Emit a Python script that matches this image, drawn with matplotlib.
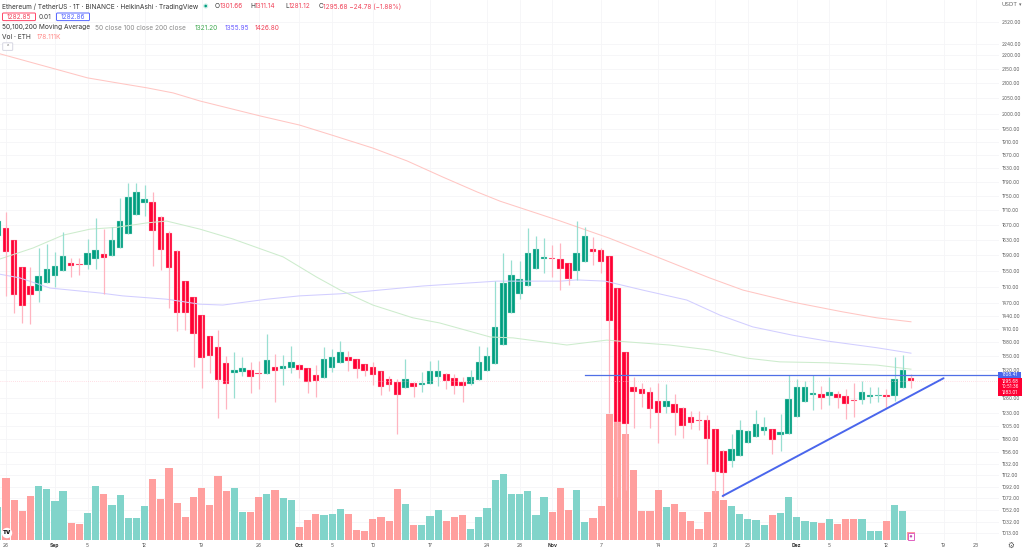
import numpy as np
import matplotlib
matplotlib.use("Agg")
import matplotlib.pyplot as plt
from matplotlib.patches import FancyBboxPatch, Rectangle, Circle
from matplotlib.ticker import NullFormatter, FixedLocator, FixedFormatter

plt.rcParams['font.family'] = ['Inter', 'DejaVu Sans']

# ---- data (daily ETH/USDT, Heikin Ashi) ----
days = list(range(-1, 112))
opens = [1640,1661,1629,1560,1512,1500,1519,1537,1549,1570,1567,1565,1580,1593,1587,1608,1645,1696,1730,1733,1691,1648,1600,1524,1485,1442,1394,1370,1335,1313,1315,1319,1313,1311,1326,1322,1324,1330,1324,1309,1302,1324,1335,1348,1343,1332,1326,1317,1300,1294,1282,1292,1288,1290,1304,1311,1302,1294,1290,1298,1317,1332,1374,1447,1493,1512,1555,1580,1582,1580,1570,1549,1572,1605,1603,1587,1507,1359,1284,1280,1273,1255,1243,1249,1240,1223,1217,1217,1199,1157,1138,1148,1172,1183,1195,1199,1187,1189,1223,1253,1267,1269,1265,1269,1265,1257,1257,1263,1265,1267,1265,1282,1301.66]
closes = [1680,1598,1490,1464,1490,1537,1555,1562,1587,1562,1565,1595,1603,1582,1629,1680,1747,1761,1741,1653,1603,1557,1447,1447,1399,1345,1350,1298,1290,1319,1324,1304,1311,1341,1317,1328,1337,1319,1294,1296,1343,1348,1359,1339,1322,1317,1309,1284,1288,1267,1300,1284,1292,1317,1317,1296,1286,1286,1304,1337,1350,1415,1519,1539,1529,1595,1605,1585,1580,1555,1529,1595,1640,1598,1572,1429,1213,1209,1273,1269,1238,1230,1255,1230,1205,1211,1215,1180,1118,1116,1161,1197,1195,1209,1203,1178,1193,1259,1284,1284,1271,1261,1273,1261,1249,1255,1273,1267,1267,1263,1300,1319,1295.68]
highs = [1705,1705,1629,1560,1560,1608,1619,1598,1650,1582,1582,1632,1688,1658,1663,1744,1787,1787,1781,1761,1694,1653,1603,1524,1485,1442,1394,1408,1350,1359,1348,1337,1339,1399,1354,1352,1372,1332,1324,1330,1370,1365,1383,1361,1343,1332,1337,1317,1307,1300,1343,1294,1315,1339,1341,1313,1311,1304,1319,1372,1370,1524,1595,1577,1575,1661,1640,1634,1616,1621,1570,1680,1663,1637,1608,1587,1507,1359,1304,1292,1284,1292,1290,1269,1243,1234,1234,1226,1199,1159,1189,1217,1197,1236,1223,1199,1228,1309,1300,1296,1309,1286,1304,1275,1280,1292,1296,1284,1284,1280,1348,1352,1311.14]
lows = [1640,1488,1447,1424,1422,1473,1519,1509,1549,1534,1539,1555,1555,1493,1587,1608,1645,1696,1694,1562,1552,1459,1406,1408,1326,1282,1313,1221,1238,1261,1307,1271,1280,1311,1253,1288,1313,1302,1271,1263,1302,1315,1335,1317,1302,1307,1288,1267,1275,1189,1282,1263,1273,1290,1286,1280,1269,1253,1288,1298,1317,1332,1374,1447,1480,1512,1555,1544,1534,1502,1514,1527,1572,1565,1544,1230,1074,1086,1201,1243,1201,1172,1230,1187,1182,1199,1197,1133,1081,1074,1127,1148,1172,1183,1187,1151,1157,1189,1223,1253,1236,1238,1247,1240,1219,1223,1249,1251,1253,1240,1255,1282,1281.12]
volumes_k = [686,1302,847,616,931,1134,1071,819,1036,364,329,567,1134,959,728,938,462,462,714,1281,861,1505,784,476,903,1099,742,1351,1022,1099,588,588,903,973,1043,875,833,280,420,546,532,546,644,
             546,217,196,434,476,406,1064,749,315,322,504,637,406,476,518,238,476,679,1267,1386,966,959,1029,525,903,581,1099,623,1050,385,462,714,2646,2814,2226,1470,609,609,1050,700,749,588,399,224,588,1029,840,714,539,434,413,315,525,567,910,476,406,385,350,434,329,434,441,448,196,189,399,735,616,178]

ma200_x = [-0.7,6,10,13.6,17.3,20.5,23.8,31.2,36,40,45,49.2,53.6,57.8,60.6,68,74,80.2,86.3,90.4,96.5,102.6,106.8,111]
ma200_y = [2203,2150,2119,2102,2085,2068,2041,1992,1963,1931,1891,1852,1804,1761,1735,1680,1634,1582,1532,1502,1473,1450,1436,1426.8]
ma100_x = [-0.7,1.7,5.4,11.5,14.3,19.7,23.8,26.6,32,36,41,51.1,60.2,68,70,73.5,78.1,83.5,87.6,91.6,96.5,100.7,106.8,111]
ma100_y = [1541,1532,1507,1495,1488,1480,1468,1466,1480,1488,1493,1512,1524,1524,1527,1524,1502,1478,1442,1415,1396,1383,1368,1355.95]
ma50_x = [-0.7,3.3,7,10.3,13.6,17.3,19.7,23.8,27.8,34,38.1,41,45,49.9,53.2,59.4,62.2,68.8,73.7,76.2,81.4,86.3,90.9,94.9,100.7,106.8,111]
ma50_y = [1580,1608,1642,1658,1663,1675,1680,1658,1632,1585,1534,1502,1466,1436,1424,1392,1390,1374,1385,1381,1374,1363,1345,1337,1335,1330,1321.2]

hline_price = 1308.41
hline_from = 71
last_price = 1295.68
trend_x = [87.9, 115]
trend_y = [1075.6, 1302]

price_ticks = [2320,2240,2200,2150,2100,2050,2000,1950,1910,1870,1830,1790,1750,1710,1670,1630,1590,1550,1510,1470,1440,1410,1380,1350,1320,1260,1230,1205,1180,1156,1132,1112,1092,1072,1052,1032,1013]
date_ticks = [0,6,10,17,24,31,36,40,45,52,59,63,67,73,80,87,91,97,101,108,115,119]
date_labels = ['26','Sep','5','12','19','26','Oct','5','10','17','24','28','Nov','7','14','21','25','Dez','5','12','19','23']
month_labels = {'Sep','Oct','Nov','Dez'}

RED, GREEN = '#ff0033', '#009e80'
WICK_R, WICK_G = '#ffb4c0', '#98dfd1'
VOL_R, VOL_G = '#ff9f9e', '#81d4ca'
GRID = '#f5f5f7'

W, H = 1024, 549
fig = plt.figure(figsize=(W/100, H/100), dpi=100, facecolor='white')
rect = [0, 1-541/H, 999/W, 541/H]

xlim = (-0.736, 121.8)
ylim = (999.9, 2404.3)

ax = fig.add_axes(rect)            # grid + labels
ax_v = fig.add_axes(rect, sharex=ax)   # volume
ax_c = fig.add_axes(rect, sharex=ax)   # price

ax.set_zorder(1); ax_v.set_zorder(2); ax_c.set_zorder(3)
for a in (ax_v, ax_c):
    a.patch.set_visible(False)

for a in (ax, ax_c):
    a.set_yscale('log')
    a.set_ylim(*ylim)
ax.set_xlim(*xlim)

for a in (ax, ax_v, ax_c):
    for s in a.spines.values():
        s.set_visible(False)

ax.yaxis.tick_right()
ax.yaxis.set_major_locator(FixedLocator(price_ticks))
ax.yaxis.set_major_formatter(FixedFormatter([f"{v:.2f}" for v in price_ticks]))
ax.yaxis.set_minor_locator(FixedLocator([]))
ax.yaxis.set_minor_formatter(NullFormatter())
ax.tick_params(axis='y', length=0, pad=2, labelsize=3.5, labelcolor='#5f5f5f')
ax.set_xticks(date_ticks)
ax.set_xticklabels(date_labels)
ax.tick_params(axis='x', length=0, pad=1.6, labelsize=3.6, labelcolor='#555555')
for t in ax.get_xticklabels():
    if t.get_text() in month_labels:
        t.set_fontweight('bold')
        t.set_color('#333333')
ax.grid(True, color=GRID, lw=0.6)
ax.set_axisbelow(True)

x = np.array(days, dtype=float)
o, h, l, c = map(np.array, (opens, highs, lows, closes))
up = c >= o

# volume
ax_v.set_ylim(-21, 11340)
ax_v.axis('off')
ax_v.bar(x, volumes_k, width=0.88, color=[VOL_G if u else VOL_R for u in up], linewidth=0)

# moving averages
ax_c.plot(ma200_x, ma200_y, color='#ffc6c3', lw=0.75)
ax_c.plot(ma100_x, ma100_y, color='#d2ceff', lw=0.75)
ax_c.plot(ma50_x, ma50_y, color='#cdeccd', lw=0.75)

# last price dotted line
ax_c.axhline(last_price, color='#ffc0cc', lw=0.5, ls=(0, (1, 2)))

# candles
ax_c.vlines(x, l, h, colors=[WICK_G if u else WICK_R for u in up], lw=0.9)
ax_c.bar(x, np.abs(c-o), bottom=np.minimum(o, c), width=0.8,
         color=[GREEN if u else RED for u in up], linewidth=0.25,
         edgecolor=['#b5e6dc' if u else '#ffc2cd' for u in up])

# drawings
ax_c.plot([hline_from, xlim[1]], [hline_price, hline_price], color='#4f6fe6', lw=0.9)
ax_c.plot(trend_x, trend_y, color='#4a66ec', lw=1.4, solid_capstyle='round')
ax_c.set_xlim(*xlim)
ax_c.set_ylim(*ylim)
ax_c.tick_params(left=False, right=False, bottom=False, top=False, which='both',
                 labelleft=False, labelbottom=False)
ax_c.yaxis.set_minor_formatter(NullFormatter())

# overlay in pixel coordinates for the TradingView chrome
ov = fig.add_axes([0, 0, 1, 1], zorder=10)
ov.set_xlim(0, W); ov.set_ylim(H, 0); ov.axis('off')

def txt(px, py, s, color='#333333', size=4.7, **kw):
    ov.text(px, py, s, color=color, fontsize=size, va='center', ha=kw.pop('ha', 'left'), **kw)

TXT_RED = '#f0445a'
txt(2, 6.5, 'Ethereum / TetherUS · 1T · BINANCE · HeikinAshi · TradingView')
ov.add_patch(Circle((205.7, 6), 2.6, color='#cdeee6', lw=0))
ov.add_patch(Circle((205.7, 6), 1.3, color='#009e80', lw=0))
for px, s, col in [(215, 'O', '#333333'), (220, '1301.66', TXT_RED),
                   (250, 'H', '#333333'), (255, '1311.14', TXT_RED),
                   (285, 'L', '#333333'), (289, '1281.12', TXT_RED),
                   (319, 'C', '#333333'), (323, '1295.68 −24.78 (−1.88%)', TXT_RED)]:
    txt(px, 6.5, s, col)

ov.add_patch(FancyBboxPatch((2.5, 13), 33, 7.6, boxstyle='round,pad=0,rounding_size=1',
                            fc='white', ec='#ff4466', lw=0.7))
txt(19, 17, '1282.85', TXT_RED, ha='center')
txt(38.5, 17, '0.01', '#444444')
ov.add_patch(FancyBboxPatch((56.5, 13), 33, 7.6, boxstyle='round,pad=0,rounding_size=1',
                            fc='white', ec='#5566ff', lw=0.7))
txt(73, 17, '1282.86', '#5566ff', ha='center')

txt(2, 27.5, '50,100,200 Moving Average')
txt(95, 27.5, '50 close 100 close 200 close', '#8a8a8a')
txt(195, 27.5, '1321.20', '#3fa84f')
txt(225, 27.5, '1355.95', '#6a5cff')
txt(255, 27.5, '1426.80', '#f0445a')
txt(2, 37, 'Vol · ETH')
txt(37, 37, '178.111K', '#ff8a88')

ov.add_patch(FancyBboxPatch((2.7, 42.8), 10, 7.6, boxstyle='round,pad=0,rounding_size=0.8',
                            fc='white', ec='#d6d6e2', lw=0.7))
txt(7.7, 46.8, '⌃', '#444444', size=3.6, ha='center', family=['DejaVu Sans'])

# right axis chrome
txt(1001, 5, 'USDT', '#666666', size=4.2)
txt(1018.5, 5, '▾', '#666666', size=3.5, family=['DejaVu Sans'])
ov.add_patch(Rectangle((998, 371.7), 23, 6.3, fc='#4a66ec', ec='none'))
txt(1009.5, 375, '1308.41', 'white', size=3.3, ha='center')
ov.add_patch(Rectangle((998, 378.2), 24, 17.6, fc='#ff0033', ec='none'))
txt(1010, 381.3, '1295.68', 'white', size=3.3, ha='center')
txt(1010, 386.7, '10:51:36', 'white', size=3.3, ha='center')
txt(1010, 392.7, '1283.01', 'white', size=3.3, ha='center')

txt(1010.7, 545.5, '⚙', '#555555', size=5.5, ha='center', family=['DejaVu Sans'])

# TradingView logo and small icon
ov.add_patch(Circle((7, 533), 5.2, fc='white', ec='none'))
txt(7, 533, 'TV', '#111111', size=4, ha='center', fontweight='black')
ov.add_patch(Rectangle((908, 533), 6, 6.5, fc='white', ec='#e060c0', lw=0.7))
ov.add_patch(Circle((911, 536.3), 1.2, fc='#c050b0', ec='none'))

fig.savefig('out.png', dpi=100, facecolor='white')
